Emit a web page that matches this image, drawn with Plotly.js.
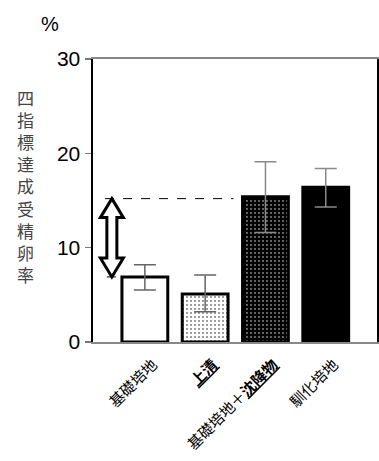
<!DOCTYPE html>
<html>
<head>
<meta charset="utf-8">
<script src="https://cdn.plot.ly/plotly-3.0.1.min.js"></script>
<style>html,body{margin:0;padding:0;background:#fff;}#chart{width:379px;height:461px;}</style>
</head>
<body>
<div id="chart"></div>
<script>
// ---- data ----
const categories = ['基礎培地', '<b><u>上清</u></b>', '基礎培地＋<b><u>沈降物</u></b>', '馴化培地'];
const values = [6.9, 5.1, 15.4, 16.4];
const errPlus = [1.3, 2.0, 3.7, 2.0];
const errMinus = [1.4, 1.9, 3.8, 2.1];
const yTicks = [0, 10, 20, 30];
const refLevel = 15.2;   // dashed reference line level
const yTitleChars = ['四', '指', '標', '達', '成', '受', '精', '卵', '率'];

// ---- styles per bar ----
const barStyles = [
  {bg: '#ffffff', fg: '#000000', shape: '', size: 4, solidity: 0.1},
  {bg: '#ffffff', fg: '#000000', shape: '.', size: 4, solidity: 0.1},
  {bg: '#000000', fg: '#ffffff', shape: '.', size: 4, solidity: 0.1},
  {bg: '#000000', fg: '#ffffff', shape: '', size: 4, solidity: 0.1}
];

// ---- layout constants ----
const W = 379, H = 461;
const mL = 93, mR = 2, mT = 59, mB = 119;
const plotW = W - mL - mR, plotH = H - mT - mB;
const xRange = [-0.86, 3.85], yRange = [0, 30];
const pxPerX = plotW / (xRange[1] - xRange[0]);
const pxPerY = plotH / (yRange[1] - yRange[0]);

const xs = categories.map((c, i) => i);

const traces = xs.map((x, i) => ({
  type: 'bar',
  x: [x],
  y: [values[i]],
  width: 0.76,
  marker: {
    color: barStyles[i].bg,
    line: {color: '#000000', width: 3},
    pattern: {
      shape: barStyles[i].shape,
      fgcolor: barStyles[i].fg,
      bgcolor: barStyles[i].bg,
      fillmode: 'replace',
      size: barStyles[i].size,
      solidity: barStyles[i].solidity
    }
  },
  error_y: {
    type: 'data', symmetric: false,
    array: [errPlus[i]], arrayminus: [errMinus[i]],
    color: i < 2 ? '#666666' : '#8a8a8a', thickness: 1.5, width: 11
  },
  hoverinfo: 'skip'
}));

// arrow geometry in data units (from pixels)
const ax = -0.547;
const headHalf = 11.5 / pxPerX, shaftHalf = 5 / pxPerX;
const headH = 19 / pxPerY;
const yTop = refLevel, yBot = values[0];
const arrowPath = [
  ['M', ax, yTop],
  ['L', ax + headHalf, yTop - headH],
  ['L', ax + shaftHalf, yTop - headH],
  ['L', ax + shaftHalf, yBot + headH],
  ['L', ax + headHalf, yBot + headH],
  ['L', ax, yBot],
  ['L', ax - headHalf, yBot + headH],
  ['L', ax - shaftHalf, yBot + headH],
  ['L', ax - shaftHalf, yTop - headH],
  ['L', ax - headHalf, yTop - headH]
].map(p => p[0] + p[1].toFixed(4) + ',' + p[2].toFixed(4)).join(' ') + ' Z';

const shapes = [
  {type: 'line', xref: 'x', yref: 'y', x0: -0.66, x1: 1.47, y0: refLevel, y1: refLevel,
   line: {color: '#000', width: 1, dash: 'dash'}},
  {type: 'line', xref: 'x', yref: 'y', x0: -0.63, x1: -0.38, y0: values[0], y1: values[0],
   line: {color: '#000', width: 1, dash: 'dash'}},
  {type: 'path', xref: 'x', yref: 'y', path: arrowPath,
   line: {color: '#000', width: 3}, fillcolor: '#ffffff'}
];

const annotations = [
  {
    xref: 'paper', yref: 'paper',
    x: (25 - mL) / plotW, y: (H - mB - 186) / plotH,
    xanchor: 'center', yanchor: 'middle',
    text: yTitleChars.join('<br>'), showarrow: false,
    font: {family: 'Noto Sans CJK JP', size: 17, color: '#444'}
  },
  {
    xref: 'paper', yref: 'paper',
    x: (50 - mL) / plotW, y: (H - mB - 24) / plotH,
    xanchor: 'center', yanchor: 'middle',
    text: '%', showarrow: false,
    font: {family: 'Liberation Sans, Arial', size: 20, color: '#000'}
  }
];

const layout = {
  width: W, height: H,
  margin: {l: mL, r: mR, t: mT, b: mB, pad: 0},
  paper_bgcolor: '#ffffff', plot_bgcolor: '#ffffff',
  showlegend: false,
  barmode: 'overlay',
  xaxis: {
    range: xRange,
    tickvals: xs, ticktext: categories,
    tickangle: -45,
    ticks: '',
    ticklabelstandoff: 6,
    ticklabelshift: 8,
    showgrid: false, zeroline: false,
    showline: true, linecolor: '#888888', linewidth: 2, mirror: true,
    tickfont: {family: 'Noto Sans CJK JP', size: 15, color: '#000'},
    fixedrange: true
  },
  yaxis: {
    range: yRange,
    tickvals: yTicks,
    ticks: 'outside', ticklen: 6, tickcolor: '#777', tickwidth: 1.5,
    showgrid: false, zeroline: false,
    showline: true, linecolor: '#000000', linewidth: 2.5, mirror: true,
    tickfont: {family: 'Liberation Sans, Arial', size: 21, color: '#000'},
    fixedrange: true
  },
  shapes: shapes,
  annotations: annotations
};

Plotly.newPlot('chart', traces, layout, {staticPlot: true, displayModeBar: false});
</script>
</body>
</html>
